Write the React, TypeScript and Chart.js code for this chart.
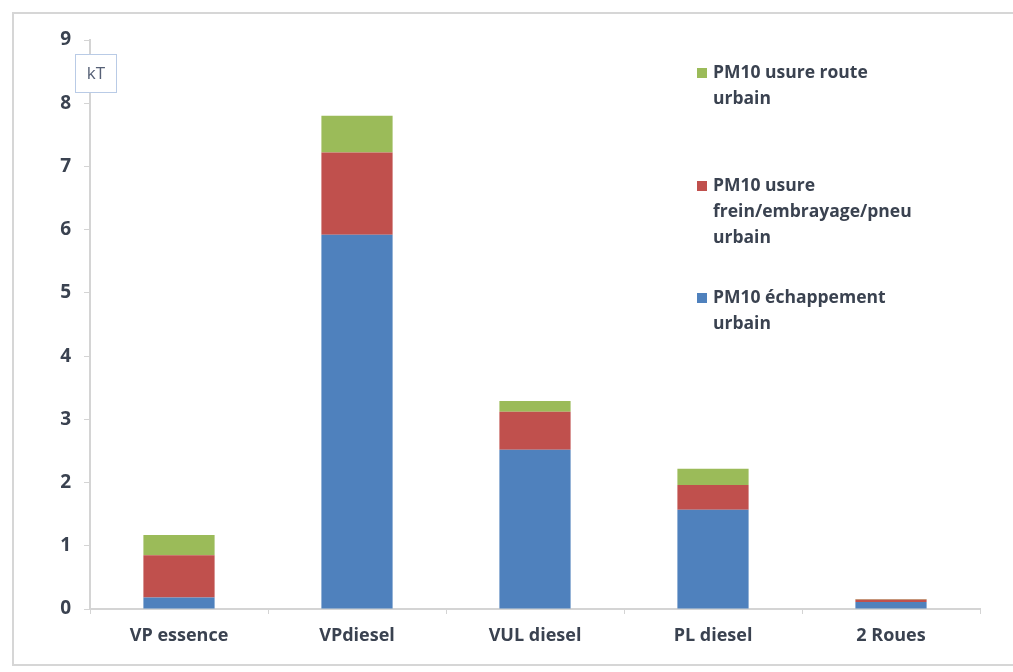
import React, { useEffect, useRef } from "react";
import { Chart, registerables } from "chart.js";

Chart.register(...registerables);

const categories = ["VP essence", "VPdiesel", "VUL diesel", "PL diesel", "2 Roues"];
const echappement = [0.18, 5.92, 2.52, 1.57, 0.11];
const freinPneu = [0.67, 1.3, 0.6, 0.39, 0.04];
const usureRoute = [0.32, 0.58, 0.17, 0.26, 0.01];
const yTicks = [0, 1, 2, 3, 4, 5, 6, 7, 8, 9];

const legendItems = [
  { color: "#9bbb59", lines: ["PM10 usure route", "urbain"], y: 73 },
  { color: "#c0504d", lines: ["PM10 usure", "frein/embrayage/pneu", "urbain"], y: 186 },
  { color: "#4f81bd", lines: ["PM10 échappement", "urbain"], y: 298 },
];

const TEXT = "#3a4250";
const AXIS = "#d4d4d4";
const FONT = "'Open Sans', Lato, sans-serif";

const overlayPlugin = {
  id: "overlay",
  afterDraw(chart: Chart) {
    const ctx = chart.ctx;
    ctx.save();
    // unit box
    ctx.strokeStyle = "#b9cbe6";
    ctx.lineWidth = 1;
    ctx.fillStyle = "#ffffff";
    ctx.fillRect(75, 54, 41, 38);
    ctx.strokeRect(75.5, 54.5, 41, 38);
    ctx.fillStyle = "#566076";
    ctx.font = `17px ${FONT}`;
    ctx.textAlign = "center";
    ctx.textBaseline = "middle";
    ctx.fillText("kT", 96, 74);

    // legend
    ctx.font = `bold 17.5px ${FONT}`;
    ctx.textAlign = "left";
    legendItems.forEach((item) => {
      ctx.fillStyle = item.color;
      ctx.fillRect(697, item.y - 5, 10, 10);
      ctx.fillStyle = TEXT;
      item.lines.forEach((line, i) => {
        ctx.fillText(line, 713, item.y + i * 26);
      });
    });
    ctx.restore();
  },
};

export default function App() {
  const canvasRef = useRef<HTMLCanvasElement | null>(null);

  useEffect(() => {
    if (!canvasRef.current) return;
    const chart = new Chart(canvasRef.current, {
      type: "bar",
      data: {
        labels: categories,
        datasets: [
          { label: "PM10 échappement urbain", data: echappement, backgroundColor: "#4f81bd" },
          { label: "PM10 usure frein/embrayage/pneu urbain", data: freinPneu, backgroundColor: "#c0504d" },
          { label: "PM10 usure route urbain", data: usureRoute, backgroundColor: "#9bbb59" },
        ],
      },
      options: {
        animation: false,
        responsive: false,
        maintainAspectRatio: false,
        layout: { padding: { left: 20, right: 33, top: 40, bottom: 18 } },
        datasets: { bar: { categoryPercentage: 1, barPercentage: 0.4 } },
        plugins: { legend: { display: false }, tooltip: { enabled: false } },
        scales: {
          x: {
            stacked: true,
            afterFit: (s: any) => {
              s.height = 45;
            },
            border: { display: true, color: AXIS, width: 2 },
            grid: { display: true, offset: true, drawOnChartArea: false, tickLength: 5, color: AXIS },
            ticks: { color: TEXT, font: { family: FONT, size: 18, weight: "bold" }, padding: 11 },
          },
          y: {
            stacked: true,
            min: 0,
            max: 9,
            afterFit: (s: any) => {
              s.width = 70;
            },
            afterBuildTicks: (s: any) => {
              s.ticks = yTicks.map((v) => ({ value: v }));
            },
            border: { display: true, color: AXIS, width: 2 },
            grid: { display: true, drawOnChartArea: false, tickLength: 6, color: AXIS },
            ticks: { color: TEXT, font: { family: FONT, size: 19, weight: "bold" }, padding: 13 },
          },
        },
      },
      plugins: [overlayPlugin],
    });
    return () => chart.destroy();
  }, []);

  return (
    <div style={{ position: "absolute", left: 0, top: 0, width: 1013, height: 672, background: "#fff", overflow: "hidden" }}>
      <div
        style={{
          position: "absolute",
          left: 12,
          top: 12,
          width: 1020,
          height: 650,
          border: "2px solid #d6d6d6",
        }}
      />
      <canvas ref={canvasRef} width={1013} height={672} style={{ position: "absolute", left: 0, top: 0 }} />
    </div>
  );
}
